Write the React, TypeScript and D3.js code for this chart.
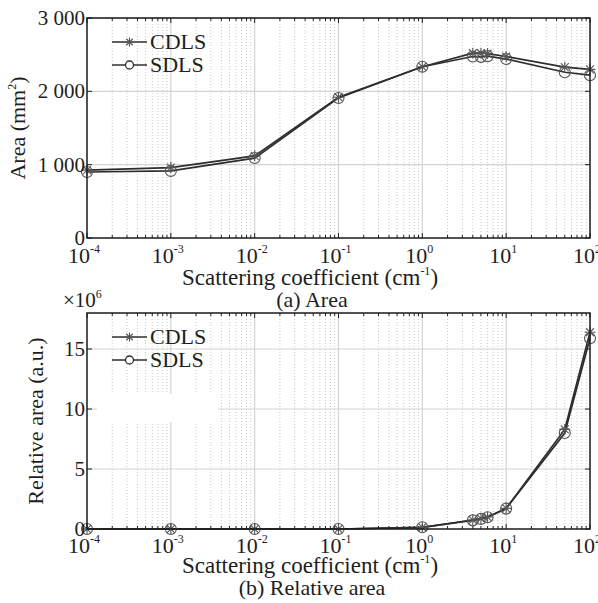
import React, { useRef, useEffect } from 'react';
import * as d3 from 'd3';

// scattering coefficients (cm^-1)
const xValues = [1e-4, 1e-3, 1e-2, 1e-1, 1, 4, 5, 6, 10, 50, 100];

// (a) area, mm^2
const areaCDLS = [925, 960, 1120, 1920, 2335, 2520, 2520, 2515, 2475, 2330, 2300];
const areaSDLS = [900, 915, 1090, 1910, 2335, 2475, 2470, 2480, 2440, 2260, 2220];

// (b) relative area, x10^6
const relCDLS = [0, 0, 0, 0, 0.14, 0.75, 0.86, 1.0, 1.72, 8.3, 16.4];
const relSDLS = [0, 0, 0, 0, 0.14, 0.72, 0.84, 0.98, 1.7, 8.0, 15.9];

const xTickExps = [-4, -3, -2, -1, 0, 1, 2];
const areaTicks = [0, 1000, 2000, 3000];
const relTicks = [0, 5, 10, 15];

const FONT = 'Liberation Serif';
const LINE = '#2e2e2e';
const MARK = '#555';

type Panel = {
  top: number;
  bottom: number;
  yMax: number;
  yTicks: number[];
  yFmt: (v: number) => string;
  cdls: number[];
  sdls: number[];
  yLabel: string;
  yLabelSup?: string;
  yLabelX: number;
  tickBase: number;
  xLabelBase: number;
  caption: string;
  captionBase: number;
};

export default function App() {
  const ref = useRef<SVGSVGElement>(null);

  useEffect(() => {
    const svg = d3.select(ref.current);
    svg.selectAll('*').remove();

    const left = 87;
    const right = 590;
    const x = d3.scaleLog().domain([1e-4, 1e2]).range([left, right]);

    const fmtThousands = (v: number) =>
      v >= 1000 ? `${Math.floor(v / 1000)} ${String(v % 1000).padStart(3, '0')}` : String(v);

    const panels: Panel[] = [
      {
        top: 18, bottom: 238, yMax: 3000, yTicks: areaTicks, yFmt: fmtThousands,
        cdls: areaCDLS, sdls: areaSDLS,
        yLabel: 'Area (mm', yLabelSup: '2', yLabelX: 25,
        tickBase: 263, xLabelBase: 285, caption: '(a) Area', captionBase: 307
      },
      {
        top: 313, bottom: 529, yMax: 18, yTicks: relTicks, yFmt: v => String(v),
        cdls: relCDLS, sdls: relSDLS,
        yLabel: 'Relative area (a.u.)', yLabelX: 43,
        tickBase: 553, xLabelBase: 573, caption: '(b) Relative area', captionBase: 595
      }
    ];

    // minor ticks 2..9 per decade
    const minors: number[] = [];
    for (let e = -4; e < 2; e++) for (let k = 2; k <= 9; k++) minors.push(k * Math.pow(10, e));

    const txt = (sel: any) =>
      sel.style('font-family', FONT).attr('fill', '#1e1e1e');

    panels.forEach(p => {
      const y = d3.scaleLinear().domain([0, p.yMax]).range([p.bottom, p.top]);
      const g = svg.append('g');

      g.append('rect')
        .attr('x', left).attr('y', p.top)
        .attr('width', right - left).attr('height', p.bottom - p.top)
        .attr('fill', '#fff');

      // minor vertical grid (dotted)
      g.selectAll('line.minor')
        .data(minors)
        .enter().append('line')
        .attr('x1', d => x(d)).attr('x2', d => x(d))
        .attr('y1', p.top).attr('y2', p.bottom)
        .attr('stroke', '#c8c8c8').attr('stroke-width', 1)
        .attr('stroke-dasharray', '1 2');

      // major vertical grid
      g.selectAll('line.majx')
        .data(xTickExps.slice(1, -1))
        .enter().append('line')
        .attr('x1', d => x(Math.pow(10, d))).attr('x2', d => x(Math.pow(10, d)))
        .attr('y1', p.top).attr('y2', p.bottom)
        .attr('stroke', '#d4d4d4').attr('stroke-width', 1.2);

      // major horizontal grid
      g.selectAll('line.majy')
        .data(p.yTicks.slice(1))
        .enter().append('line')
        .attr('x1', left).attr('x2', right)
        .attr('y1', d => y(d)).attr('y2', d => y(d))
        .attr('stroke', '#d4d4d4').attr('stroke-width', 1.2);

      // patch in the lower panel where the grid is missing
      if (p.yMax === 18) {
        g.append('rect')
          .attr('x', 97).attr('y', 394)
          .attr('width', 121).attr('height', 28)
          .attr('fill', '#fff');
      }

      // ticks (inside)
      const tickG = g.append('g').attr('stroke', '#222').attr('stroke-width', 1);
      minors.forEach(m => {
        tickG.append('line').attr('x1', x(m)).attr('x2', x(m)).attr('y1', p.bottom).attr('y2', p.bottom - 3);
        tickG.append('line').attr('x1', x(m)).attr('x2', x(m)).attr('y1', p.top).attr('y2', p.top + 3);
      });
      xTickExps.forEach(e => {
        const xx = x(Math.pow(10, e));
        tickG.append('line').attr('x1', xx).attr('x2', xx).attr('y1', p.bottom).attr('y2', p.bottom - 5);
        tickG.append('line').attr('x1', xx).attr('x2', xx).attr('y1', p.top).attr('y2', p.top + 5);
      });
      p.yTicks.forEach(t => {
        tickG.append('line').attr('x1', left).attr('x2', left + 5).attr('y1', y(t)).attr('y2', y(t));
        tickG.append('line').attr('x1', right).attr('x2', right - 5).attr('y1', y(t)).attr('y2', y(t));
      });

      // lines
      const pts = (vals: number[]) => xValues.map((xv, i) => [x(xv), y(vals[i])] as [number, number]);
      const line = d3.line();
      [p.sdls, p.cdls].forEach(vals => {
        g.append('path')
          .attr('d', line(pts(vals)))
          .attr('fill', 'none')
          .attr('stroke', LINE)
          .attr('stroke-width', 1.7);
      });

      // markers
      g.selectAll('circle.sdls')
        .data(pts(p.sdls))
        .enter().append('circle')
        .attr('cx', d => d[0]).attr('cy', d => d[1])
        .attr('r', 5.5)
        .attr('fill', 'none').attr('stroke', MARK).attr('stroke-width', 1.1);

      const star = (sel: any, cx: number, cy: number, s: number) => {
        const a = s * 0.72;
        sel.append('path')
          .attr('d', `M${cx - s},${cy}H${cx + s}M${cx},${cy - s}V${cy + s}` +
            `M${cx - a},${cy - a}L${cx + a},${cy + a}M${cx - a},${cy + a}L${cx + a},${cy - a}`)
          .attr('stroke', MARK).attr('stroke-width', 1.1).attr('fill', 'none');
      };
      const starG = g.append('g');
      pts(p.cdls).forEach(d => star(starG, d[0], d[1], 5.5));

      // axis box
      g.append('rect')
        .attr('x', left).attr('y', p.top)
        .attr('width', right - left).attr('height', p.bottom - p.top)
        .attr('fill', 'none').attr('stroke', '#1a1a1a').attr('stroke-width', 1.5);

      // legend
      const lx = left + 25;
      [{ name: 'CDLS', dy: p.top + 24, kind: 'star' }, { name: 'SDLS', dy: p.top + 47, kind: 'circle' }].forEach(l => {
        g.append('line')
          .attr('x1', lx).attr('x2', lx + 35)
          .attr('y1', l.dy).attr('y2', l.dy)
          .attr('stroke', LINE).attr('stroke-width', 1.6);
        if (l.kind === 'star') {
          star(g, lx + 17.5, l.dy, 4.5);
        } else {
          g.append('circle').attr('cx', lx + 17.5).attr('cy', l.dy).attr('r', 4)
            .attr('fill', '#fff').attr('stroke', LINE).attr('stroke-width', 1.3);
        }
        g.append('text')
          .attr('x', lx + 38).attr('y', l.dy + 7)
          .attr('font-size', 22)
          .call(txt)
          .text(l.name);
      });

      // y tick labels
      p.yTicks.forEach(t => {
        g.append('text')
          .attr('x', left - 2).attr('y', y(t) + 7)
          .attr('text-anchor', 'end')
          .attr('font-size', 21)
          .call(txt)
          .text(p.yFmt(t));
      });

      // x tick labels 10^e
      xTickExps.forEach(e => {
        const t = g.append('text')
          .attr('x', x(Math.pow(10, e)) - 3).attr('y', p.tickBase)
          .attr('text-anchor', 'middle')
          .attr('font-size', 22)
          .call(txt);
        t.append('tspan').text('10');
        t.append('tspan').attr('dy', -10).attr('font-size', 12).text(e < 0 ? `-${-e}` : String(e));
      });

      // x label
      const xl = g.append('text')
        .attr('x', 310).attr('y', p.xLabelBase)
        .attr('text-anchor', 'middle')
        .attr('font-size', 23)
        .call(txt);
      xl.append('tspan').text('Scattering coefficient (cm');
      xl.append('tspan').attr('dy', -10).attr('font-size', 12).text('-1');
      xl.append('tspan').attr('dy', 10).text(')');

      // y label
      const yl = g.append('text')
        .attr('transform', `translate(${p.yLabelX},${(p.top + p.bottom) / 2}) rotate(-90)`)
        .attr('text-anchor', 'middle')
        .attr('font-size', 22)
        .call(txt);
      yl.append('tspan').text(p.yLabel);
      if (p.yLabelSup) {
        yl.append('tspan').attr('dy', -9).attr('font-size', 12).text(p.yLabelSup);
        yl.append('tspan').attr('dy', 9).text(')');
      }

      // caption
      g.append('text')
        .attr('x', 312).attr('y', p.captionBase)
        .attr('text-anchor', 'middle')
        .attr('font-size', 22)
        .call(txt)
        .text(p.caption);
    });

    // exponent for lower panel
    const ex = svg.append('text')
      .attr('x', 63).attr('y', 307)
      .attr('font-size', 21)
      .call(txt);
    ex.append('tspan').text('\u00d710');
    ex.append('tspan').attr('dy', -9).attr('font-size', 12).text('6');
  }, []);

  return (
    <svg
      ref={ref}
      width={598}
      height={603}
      style={{ position: 'absolute', left: 0, top: 0, background: '#fff', display: 'block' }}
    />
  );
}
